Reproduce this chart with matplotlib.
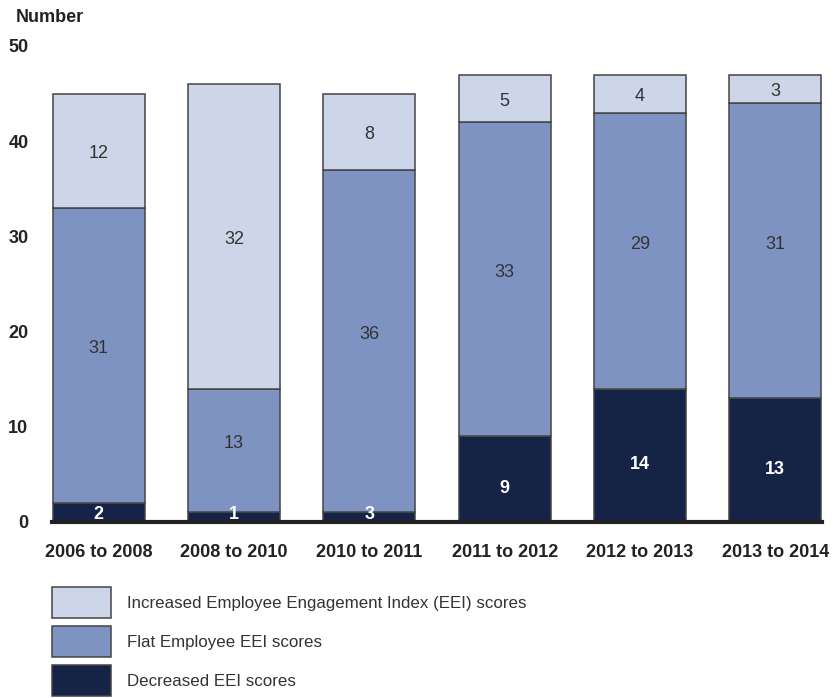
import matplotlib.pyplot as plt

plt.rcParams['font.family'] = ['Liberation Sans', 'DejaVu Sans']

periods = ['2006 to 2008', '2008 to 2010', '2010 to 2011',
           '2011 to 2012', '2012 to 2013', '2013 to 2014']
decreased = [2, 1, 1, 9, 14, 13]          # drawn heights
decreased_labels = ['2', '1', '3', '9', '14', '13']  # as printed
flat = [31, 13, 36, 33, 29, 31]
increased = [12, 32, 8, 5, 4, 3]

c_inc = '#cdd5e8'
c_flat = '#7f93c3'
c_dec = '#152347'
edge = '#444444'

fig = plt.figure(figsize=(8.36, 6.98), dpi=100)
ax = fig.add_axes([52 / 836, 1 - 522 / 698, 770 / 836, 476 / 698])

x = range(len(periods))
w = 0.68
b1 = ax.bar(x, decreased, w, color=c_dec, edgecolor=edge, linewidth=1.1,
            label='Decreased EEI scores')
b2 = ax.bar(x, flat, w, bottom=decreased, color=c_flat, edgecolor=edge,
            linewidth=1.1, label='Flat Employee EEI scores')
bot3 = [d + f for d, f in zip(decreased, flat)]
b3 = ax.bar(x, increased, w, bottom=bot3, color=c_inc, edgecolor=edge,
            linewidth=1.1, label='Increased Employee Engagement Index (EEI) scores')

for i in x:
    ax.text(i, max(decreased[i] / 2 - 1, 0.8), decreased_labels[i],
            ha='center', va='center', color='white', fontsize=13,
            fontweight='bold', zorder=6)
    ax.text(i, decreased[i] + flat[i] / 2 + 0.7, str(flat[i]),
            ha='center', va='center', color='#333333', fontsize=13)
    ax.text(i, bot3[i] + increased[i] / 2 - 0.3, str(increased[i]),
            ha='center', va='center', color='#333333', fontsize=13)

ax.axhline(0, color='#222222', linewidth=3, zorder=5, clip_on=False)
ax.set_xlim(-0.345, 5.345)
ax.set_ylim(0, 50)
ax.set_yticks([0, 10, 20, 30, 40, 50])
ax.set_xticks(list(x))
ax.set_xticklabels(periods, fontsize=13, fontweight='bold', color='#222222')
for lab in ax.get_yticklabels():
    lab.set_fontsize(13)
    lab.set_fontweight('bold')
    lab.set_color('#222222')
ax.tick_params(axis='y', length=0, pad=17)
ax.tick_params(axis='x', length=0, pad=16)
for s in ax.spines.values():
    s.set_visible(False)

fig.text(16 / 836, 1 - 17 / 698, 'Number', fontsize=13, fontweight='bold',
         color='#222222', ha='left', va='center')

fig.legend(handles=[b3, b2, b1], loc='upper left',
           bbox_to_anchor=(52 / 836, 1 - 587 / 698), frameon=False,
           fontsize=12.2, handlelength=3.5, handleheight=2.4,
           handletextpad=0.9, labelspacing=0.5, borderpad=0,
           borderaxespad=0, labelcolor='#333333')

fig.savefig('out.png', dpi=100)
